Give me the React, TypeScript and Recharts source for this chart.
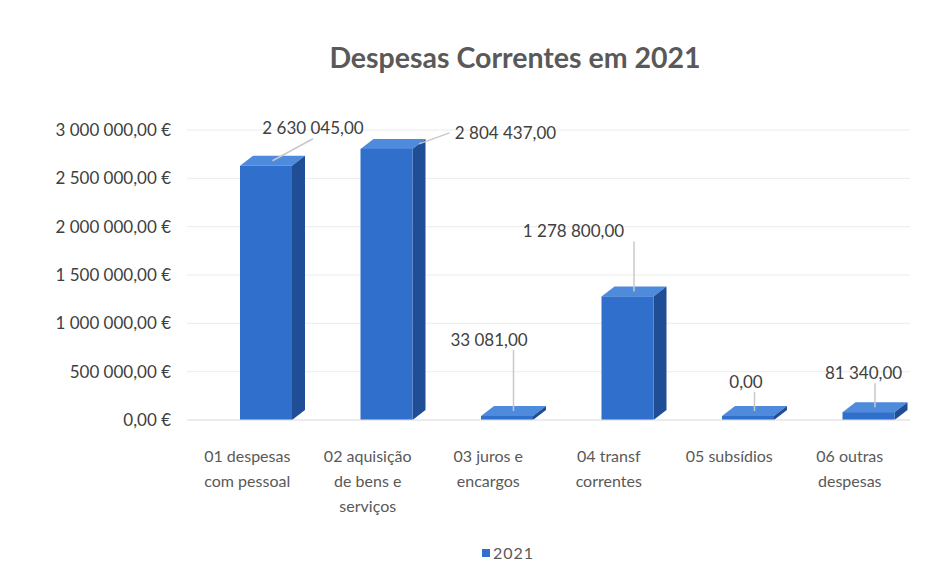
import React from "react";
import { BarChart, Bar, XAxis, YAxis, CartesianGrid, LabelList } from "recharts";

const categories = [
  "01 despesas com pessoal",
  "02 aquisição de bens e serviços",
  "03 juros e encargos",
  "04 transf correntes",
  "05 subsídios",
  "06 outras despesas",
];
const categoryLines = [
  ["01 despesas", "com pessoal"],
  ["02 aquisição", "de bens e", "serviços"],
  ["03 juros e", "encargos"],
  ["04 transf", "correntes"],
  ["05 subsídios"],
  ["06 outras", "despesas"],
];
const values2021 = [2630045, 2804437, 33081, 1278800, 0, 81340];
const yTicks = [0, 500000, 1000000, 1500000, 2000000, 2500000, 3000000];

// label placement (style): offset of each data label from its bar's top
const labelDx = [47, 119, -18, -54, -2, -5];
const labelDy = [-38, -16, -77, -66, -35, -40];

const data = categories.map((c, i) => ({ name: c, v: values2021[i], idx: i }));

const group = (n: number) => {
  const s = Math.round(n).toString();
  return s.replace(/\B(?=(\d{3})+(?!\d))/g, " ");
};
const fmt = (n: number) => group(n) + ",00";
const fmtEur = (n: number) => fmt(n) + " €";

const FONT = "Lato, 'Open Sans', sans-serif";
const SHIFT = 19;
const DX = 13;
const DY = 10;

const Bar3D = (props: any) => {
  const { x, y, width, height } = props;
  const X = x + SHIFT;
  const h = Math.max(height, 4);
  const Y = y + height - h;
  return (
    <g>
      <polygon
        points={`${X},${Y} ${X + DX},${Y - DY} ${X + width + DX},${Y - DY} ${X + width},${Y}`}
        fill="#4F8BDD"
      />
      <polygon
        points={`${X + width},${Y} ${X + width + DX},${Y - DY} ${X + width + DX},${Y + h - DY} ${X + width},${Y + h}`}
        fill="#1F4E96"
      />
      <rect x={X} y={Y} width={width} height={h} fill="#3070CC" />
    </g>
  );
};

const DataLabel = (props: any) => {
  const { x, y, width, height, index } = props;
  const h = Math.max(height, 4);
  const top = y + height - h;
  const cx = x + SHIFT + width / 2;
  const lx = cx + labelDx[index];
  const ly = top + labelDy[index];
  const sx = cx + DX / 2 + (index === 1 ? width / 2 : 0);
  const sy = top - DY / 2;
  let ex = lx;
  let ey = ly + 11;
  if (index === 1) {
    ex = lx - 56;
    ey = ly;
  } else if (index >= 2) {
    ex = sx;
  }
  return (
    <g>
      <line x1={sx} y1={sy} x2={ex} y2={ey} stroke="#c8c8c8" strokeWidth={1.5} />
      <text
        x={lx}
        y={ly}
        textAnchor="middle"
        dominantBaseline="central"
        fontFamily={FONT}
        fontSize={17}
        fill="#404040"
      >
        {fmt(values2021[index])}
      </text>
    </g>
  );
};

const CatTick = (props: any) => {
  const { x, y, index } = props;
  const lines = categoryLines[index] || [];
  return (
    <g>
      {lines.map((l, i) => (
        <text
          key={i}
          x={x}
          y={y + 34 + i * 25}
          textAnchor="middle"
          fontFamily={FONT}
          fontSize={16}
          fill="#595959"
        >
          {l}
        </text>
      ))}
    </g>
  );
};

export default function App() {
  return (
    <div style={{ position: "absolute", left: 0, top: 0, width: 936, height: 564, background: "#fff" }}>
      <div
        style={{
          position: "absolute",
          left: 0,
          width: 1030,
          top: 40,
          textAlign: "center",
          fontFamily: FONT,
          fontWeight: 700,
          fontSize: 28.5,
          color: "#595959",
        }}
      >
        Despesas Correntes em 2021
      </div>
      <BarChart
        width={936}
        height={564}
        data={data}
        margin={{ top: 130, right: 26, bottom: 44, left: 5 }}
      >
        <CartesianGrid vertical={false} stroke="#ececec" />
        <XAxis
          dataKey="name"
          height={100}
          axisLine={{ stroke: "#e2e2e2" }}
          tickLine={false}
          interval={0}
          tick={<CatTick />}
        />
        <YAxis
          width={182}
          domain={[0, 3000000]}
          ticks={yTicks}
          axisLine={false}
          tickLine={false}
          tickMargin={10}
          tickFormatter={fmtEur}
          tick={{ fontFamily: FONT, fontSize: 17, fill: "#404040" }}
        />
        <Bar dataKey="v" barSize={52} shape={<Bar3D />} isAnimationActive={false}>
          <LabelList dataKey="v" content={<DataLabel />} />
        </Bar>
      </BarChart>
      <div
        style={{
          position: "absolute",
          left: 482,
          top: 543,
          display: "flex",
          alignItems: "center",
          fontFamily: FONT,
          fontSize: 16,
          color: "#595959",
          letterSpacing: 1,
        }}
      >
        <span style={{ display: "inline-block", width: 8, height: 8, background: "#3070CC", marginRight: 3 }} />
        2021
      </div>
    </div>
  );
}
